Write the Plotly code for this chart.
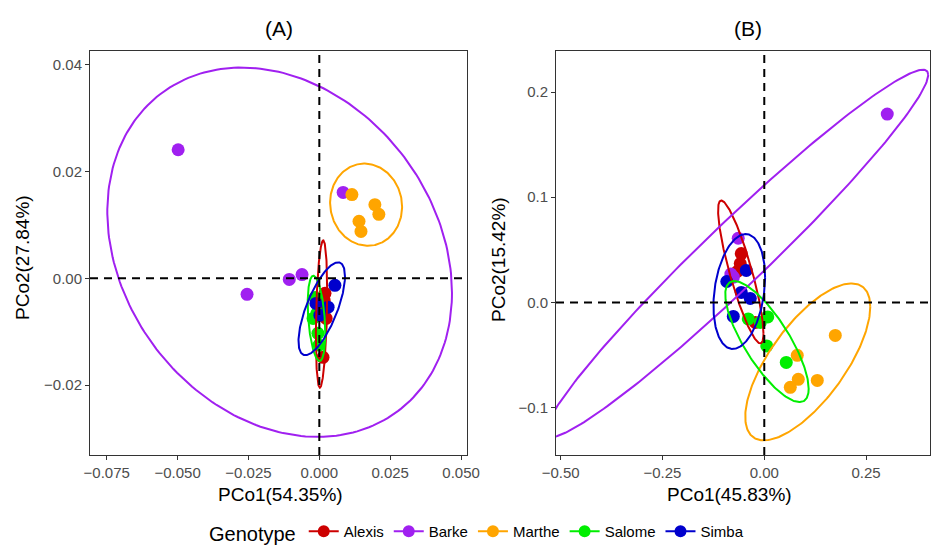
import numpy as np
import plotly.graph_objects as go

# ---- genotype styling ----
genotypes = ["Alexis", "Barke", "Marthe", "Salome", "Simba"]
colors = ["#CD0000", "#A020F0", "#FFA500", "#00EE00", "#0000CD"]

# ---- (A) PCoA scores ----
a_alexis_x = [0.0020, 0.0017, 0.0027, 0.0024, 0.0013]
a_alexis_y = [-0.0028, -0.0041, -0.0054, -0.0075, -0.0148]
a_barke_x = [-0.0498, -0.0255, -0.0106, -0.0061, 0.0084]
a_barke_y = [0.0241, -0.0030, -0.0002, 0.0007, 0.0161]
a_marthe_x = [0.0115, 0.0196, 0.0210, 0.0140, 0.0147]
a_marthe_y = [0.0157, 0.0138, 0.0120, 0.0107, 0.0088]
a_salome_x = [-0.0015, -0.0022, -0.0008, -0.0005, -0.0001]
a_salome_y = [-0.0036, -0.0075, -0.0065, -0.0103, -0.0125]
a_simba_x = [0.0055, -0.0012, 0.0031, 0.0002]
a_simba_y = [-0.0013, -0.0047, -0.0054, -0.0069]

# ---- (B) PCoA scores ----
b_alexis_x = [-0.0565, -0.0590, -0.0663, -0.0221]
b_alexis_y = [0.0465, 0.0370, 0.0294, -0.0190]
b_barke_x = [0.302, -0.064, -0.082, -0.076]
b_barke_y = [0.179, 0.061, 0.027, 0.024]
b_marthe_x = [0.081, 0.0835, 0.0639, 0.1302, 0.1744]
b_marthe_y = [-0.0503, -0.0731, -0.0807, -0.0741, -0.0313]
b_salome_x = [0.0086, -0.0393, 0.0061, 0.0540, -0.0098]
b_salome_y = [-0.0138, -0.0157, -0.0413, -0.0570, -0.0190]
b_simba_x = [-0.0921, -0.0565, -0.0344, -0.0761, -0.0442]
b_simba_y = [0.0199, 0.0095, 0.0038, -0.0133, 0.0304]

# ---- 95% ellipses: centre, half-extent in x / y, correlation ----
a_ell_cx = [0.00078, -0.0140, 0.0165, -0.0010, 0.00085]
a_ell_cy = [-0.0067, 0.0049, 0.0138, -0.0075, -0.0057]
a_ell_rx = [0.0020, 0.0608, 0.0127, 0.0031, 0.0082]
a_ell_ry = [0.0138, 0.0346, 0.0077, 0.0080, 0.0087]
a_ell_rho = [0.30, -0.22, -0.05, -0.35, 0.70]

b_ell_cx = [-0.0577, -0.0675, 0.1068, 0.0066, -0.0614]
b_ell_cy = [0.0290, 0.0465, -0.0565, -0.0372, 0.0104]
b_ell_rx = [0.0557, 0.470, 0.1535, 0.1024, 0.0634]
b_ell_ry = [0.0679, 0.1747, 0.0746, 0.0575, 0.0546]
b_ell_rho = [-0.86, 0.972, 0.70, -0.78, 0.25]

# ---- axes ----
a_xticks = [-0.075, -0.050, -0.025, 0.000, 0.025, 0.050]
a_yticks = [-0.02, 0.00, 0.02, 0.04]
b_xticks = [-0.50, -0.25, 0.00, 0.25]
b_yticks = [-0.1, 0.0, 0.1, 0.2]
a_xrange = [-0.0809, 0.0521]
a_yrange = [-0.0331, 0.0426]
b_xrange = [-0.5115, 0.407]
b_yrange = [-0.145, 0.239]

FONT = "Liberation Sans, Arial, sans-serif"


def ellipse(cx, cy, rx, ry, rho, n=240):
    t = np.linspace(0, 2 * np.pi, n)
    d = np.arccos(rho)
    return cx + rx * np.cos(t), cy + ry * np.cos(t - d)


def fmt(v, nd):
    s = f"{abs(v):.{nd}f}"
    return ("\u2212" + s) if v < 0 else s


fig = go.Figure()

panels = [
    ("x", "y",
     [(a_alexis_x, a_alexis_y), (a_barke_x, a_barke_y), (a_marthe_x, a_marthe_y),
      (a_salome_x, a_salome_y), (a_simba_x, a_simba_y)],
     (a_ell_cx, a_ell_cy, a_ell_rx, a_ell_ry, a_ell_rho)),
    ("x2", "y2",
     [(b_alexis_x, b_alexis_y), (b_barke_x, b_barke_y), (b_marthe_x, b_marthe_y),
      (b_salome_x, b_salome_y), (b_simba_x, b_simba_y)],
     (b_ell_cx, b_ell_cy, b_ell_rx, b_ell_ry, b_ell_rho)),
]

for xa, ya, pts, ell in panels:
    for i, g in enumerate(genotypes):
        px, py = pts[i]
        fig.add_trace(go.Scatter(
            x=px, y=py, xaxis=xa, yaxis=ya, mode="markers",
            marker=dict(size=13, color=colors[i], line=dict(width=0)),
            showlegend=False, legendgroup=g, name=g, hoverinfo="x+y+name"))
    for i, g in enumerate(genotypes):
        ex, ey = ellipse(ell[0][i], ell[1][i], ell[2][i], ell[3][i], ell[4][i])
        fig.add_trace(go.Scatter(
            x=ex, y=ey, xaxis=xa, yaxis=ya, mode="lines",
            line=dict(color=colors[i], width=2),
            showlegend=False, legendgroup=g, name=g, hoverinfo="skip"))

# legend keys (line through point)
for i, g in enumerate(genotypes):
    fig.add_trace(go.Scatter(
        x=[None], y=[None], mode="lines+markers", name=g, legendgroup=g,
        marker=dict(size=12, color=colors[i]),
        line=dict(color=colors[i], width=2)))

# zero reference lines
for xa, ya in [("x", "y"), ("x2", "y2")]:
    fig.add_shape(type="line", xref=xa, yref=f"{ya} domain", x0=0, x1=0, y0=0, y1=1,
                  line=dict(color="black", width=2, dash="8px,6px"), layer="above")
    fig.add_shape(type="line", xref=f"{xa} domain", yref=ya, x0=0, x1=1, y0=0, y1=0,
                  line=dict(color="black", width=2, dash="8px,6px"), layer="above")

W, H = 932, 548
ydom = [1 - 455 / H, 1 - 51 / H]
axis_common = dict(showgrid=False, zeroline=False, showline=True, mirror=True,
                   automargin=False,
                   linecolor="#333333", linewidth=1, ticks="outside", ticklen=4,
                   tickwidth=1, tickcolor="#333333",
                   tickfont=dict(family=FONT, size=15, color="#4D4D4D"))

fig.update_layout(
    template="none",
    width=W, height=H, autosize=False,
    margin=dict(l=0, r=0, t=0, b=0, pad=0, autoexpand=False),
    paper_bgcolor="white", plot_bgcolor="white",
    font=dict(family=FONT, color="black"),
    xaxis=dict(domain=[90 / W, 467 / W], range=a_xrange, anchor="y",
               tickvals=a_xticks, ticktext=[fmt(v, 3) for v in a_xticks], **axis_common),
    yaxis=dict(domain=ydom, range=a_yrange, anchor="x",
               tickvals=a_yticks, ticktext=[fmt(v, 2) for v in a_yticks], **axis_common),
    xaxis2=dict(domain=[556 / W, 930 / W], range=b_xrange, anchor="y2",
                tickvals=b_xticks, ticktext=[fmt(v, 2) for v in b_xticks], **axis_common),
    yaxis2=dict(domain=ydom, range=b_yrange, anchor="x2",
                tickvals=b_yticks, ticktext=[fmt(v, 1) for v in b_yticks], **axis_common),
    legend=dict(orientation="h", x=478 / W, xanchor="center", y=1 - 533 / H, yanchor="middle",
                valign="middle",
                title=dict(text="Genotype", font=dict(size=20, family=FONT)),
                font=dict(size=15, family=FONT), itemwidth=30, tracegroupgap=0,
                bgcolor="rgba(0,0,0,0)"),
    showlegend=True,
)

annotations = [
    dict(text="(A)", x=279 / W, y=1 - 28 / H, font=dict(size=21)),
    dict(text="(B)", x=748 / W, y=1 - 28 / H, font=dict(size=21)),
    dict(text="PCo1(54.35%)", x=280 / W, y=1 - 494 / H, font=dict(size=19)),
    dict(text="PCo1(45.83%)", x=729 / W, y=1 - 494 / H, font=dict(size=19)),
    dict(text="PCo2(27.84%)", x=22 / W, y=1 - 258 / H, textangle=-90, font=dict(size=19)),
    dict(text="PCo2(15.42%)", x=498 / W, y=1 - 260 / H, textangle=-90, font=dict(size=19)),
]
for a in annotations:
    a.update(xref="paper", yref="paper", showarrow=False, xanchor="center", yanchor="middle")
    a["font"].update(family=FONT, color="black")
fig.update_layout(annotations=annotations)

fig.write_html("out.html")
